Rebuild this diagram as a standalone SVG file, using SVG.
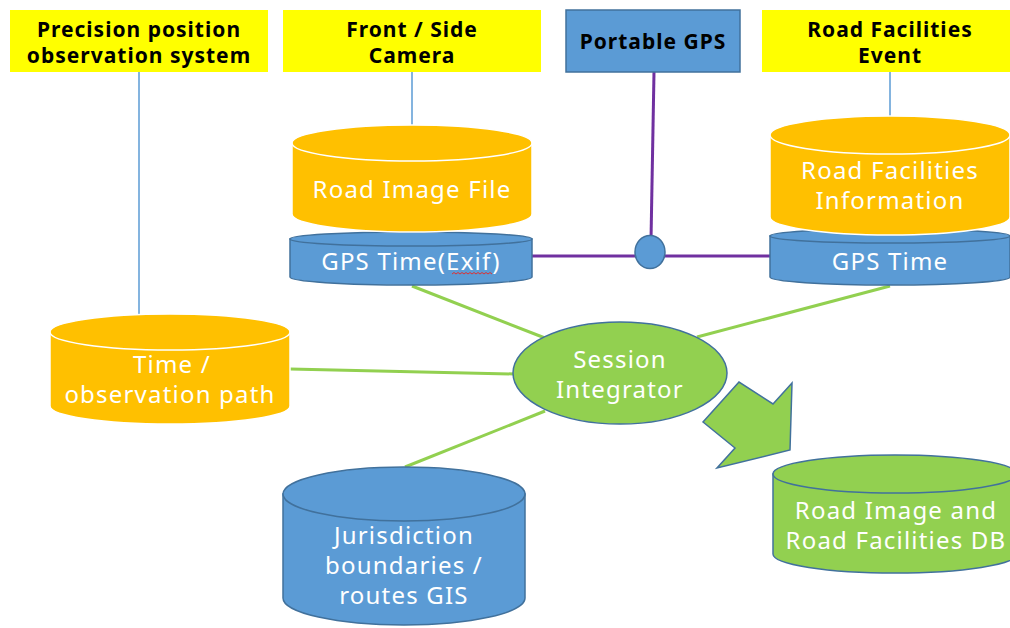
<svg xmlns="http://www.w3.org/2000/svg" width="1010" height="628" viewBox="0 0 1010 628">
<style>
.hdr{fill:#ffff00;}
.hdrt{font-family:"Noto Sans","Liberation Sans",sans-serif;font-weight:bold;font-size:21px;letter-spacing:1px;fill:#000;text-anchor:middle;}
.lbl{font-family:"Noto Sans","Liberation Sans",sans-serif;font-size:24px;letter-spacing:1.2px;fill:#fff;text-anchor:middle;}
.org{fill:#ffc000;stroke:#fff;stroke-width:1.5;}
.blu{fill:#5b9bd5;stroke:#41719c;stroke-width:1.5;}
.grn{fill:#92d050;stroke:#41719c;stroke-width:1.5;}
.vl{stroke:#5b9bd5;stroke-width:1.5;fill:none;}
.pl{stroke:#7030a0;stroke-width:3;fill:none;}
.gl{stroke:#92d050;stroke-width:3;fill:none;}
</style>
<rect width="1010" height="628" fill="#fff"/>
<g id="connectors">
<line class="vl" x1="139" y1="72" x2="139" y2="316"/>
<line class="vl" x1="412" y1="72" x2="412" y2="126"/>
<line class="vl" x1="890" y1="72" x2="890" y2="117"/>
<line class="pl" x1="654" y1="72" x2="651" y2="240"/>
<line class="pl" x1="531" y1="256" x2="772" y2="256"/>
<line class="gl" x1="412" y1="286" x2="545" y2="338"/>
<line class="gl" x1="890" y1="286" x2="697" y2="337"/>
<line class="gl" x1="290" y1="369" x2="514" y2="374"/>
<line class="gl" x1="545" y1="411" x2="405" y2="467"/>
<polygon class="grn" points="703,422 739,382 773,404 792,383 790,450 717,468 735,448"/>
</g>
<g id="precision">
<rect class="hdr" x="10" y="10" width="258" height="62"/>
<text class="hdrt" x="139" y="37">Precision position</text>
<text class="hdrt" x="139" y="63">observation system</text>
</g>
<g id="camera">
<rect class="hdr" x="283" y="10" width="258" height="62"/>
<text class="hdrt" x="412" y="37">Front / Side</text>
<text class="hdrt" x="412" y="63">Camera</text>
</g>
<g id="portable-gps">
<rect class="blu" x="566" y="10" width="174" height="62"/>
<text class="hdrt" x="653" y="49">Portable GPS</text>
</g>
<g id="event">
<rect class="hdr" x="762" y="10" width="248" height="62"/>
<text class="hdrt" x="890" y="37">Road Facilities</text>
<text class="hdrt" x="890" y="63">Event</text>
</g>
<g id="gps-junction">
<ellipse class="blu" cx="650" cy="252" rx="15" ry="16.5"/>
</g>
<g id="gps-time-exif">
<path class="blu" d="M290,239 L290,277 A121,8 0 0 0 532,277 L532,239 Z"/>
<ellipse class="blu" cx="411" cy="239" rx="121" ry="7"/>
<text class="lbl" x="411" y="270">GPS Time(Exif)</text>
<path d="M452,274 l2,-1.5 l2,1.5 l2,-1.5 l2,1.5 l2,-1.5 l2,1.5 l2,-1.5 l2,1.5 l2,-1.5 l2,1.5 l2,-1.5 l2,1.5 l2,-1.5 l2,1.5 l2,-1.5 l2,1.5 l2,-1.5 l2,1.5 l2,-1.5 l2,1.5" stroke="#e03030" stroke-width="1" fill="none"/>
</g>
<g id="road-image-file">
<path class="org" d="M292,143 L292,214 A120,18 0 0 0 532,214 L532,143 Z"/>
<ellipse class="org" cx="412" cy="143" rx="120" ry="18"/>
<text class="lbl" x="412" y="198">Road Image File</text>
</g>
<g id="gps-time">
<path class="blu" d="M770,236 L770,277 A120,8 0 0 0 1010,277 L1010,236 Z"/>
<ellipse class="blu" cx="890" cy="236" rx="120" ry="7"/>
<text class="lbl" x="890" y="270">GPS Time</text>
</g>
<g id="road-facilities-info">
<path class="org" d="M770,135 L770,217 A120,18 0 0 0 1010,217 L1010,135 Z"/>
<ellipse class="org" cx="890" cy="135" rx="120" ry="19"/>
<text class="lbl" x="890" y="179">Road Facilities</text>
<text class="lbl" x="890" y="209">Information</text>
</g>
<g id="time-path">
<path class="org" d="M50,332 L50,406 A120,18 0 0 0 290,406 L290,332 Z"/>
<ellipse class="org" cx="170" cy="332" rx="120" ry="18"/>
<text class="lbl" x="172" y="373">Time /</text>
<text class="lbl" x="170" y="403">observation path</text>
</g>
<g id="session-integrator">
<ellipse class="grn" cx="620" cy="373" rx="107" ry="51"/>
<text class="lbl" x="620" y="368">Session</text>
<text class="lbl" x="620" y="398">Integrator</text>
</g>
<g id="road-db">
<path class="grn" d="M773,474 L773,554 A122,19 0 0 0 1017,554 L1017,474 Z"/>
<ellipse class="grn" cx="895" cy="474" rx="122" ry="19"/>
<text class="lbl" x="896" y="519">Road Image and</text>
<text class="lbl" x="896" y="549">Road Facilities DB</text>
</g>
<g id="gis">
<path class="blu" d="M283,494 L283,598 A121,27 0 0 0 525,598 L525,494 Z"/>
<ellipse class="blu" cx="404" cy="494" rx="121" ry="27"/>
<text class="lbl" x="404" y="544">Jurisdiction</text>
<text class="lbl" x="404" y="574">boundaries /</text>
<text class="lbl" x="404" y="604">routes GIS</text>
</g>
</svg>
